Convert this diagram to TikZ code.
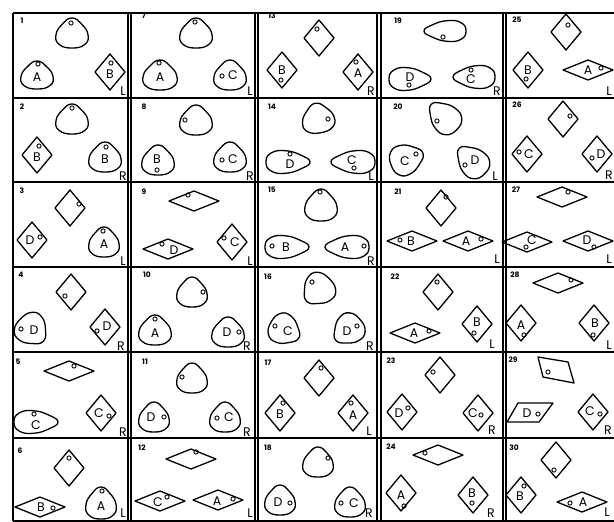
\documentclass[tikz,border=0pt]{standalone}
\usepackage{fontspec}
\setsansfont{Poppins}
\newcommand\Blob[5]{\begin{scope}[shift={(#1,#2)},rotate=#3]
\draw[shp] plot[smooth cycle,tension=0.8] coordinates {(0,{-#5/2}) ({0.28*#4},{-0.3*#5}) ({0.47*#4},{0.05*#5}) ({0.38*#4},{0.38*#5}) (0,{#5/2}) ({-0.38*#4},{0.38*#5}) ({-0.47*#4},{0.05*#5}) ({-0.28*#4},{-0.3*#5})};
\end{scope}}
\newcommand\DmV[2]{\draw[shp] (#1,#2) ++(0,-18) -- ++(15,18) -- ++(-15,18) -- ++(-15,-18) -- cycle;}
\newcommand\DmH[2]{\draw[shp] (#1,#2) ++(0,-10) -- ++(25,10) -- ++(-25,10) -- ++(-25,-10) -- cycle;}
\newcommand\Rg[2]{\draw[line width=0.9pt] (#1,#2) circle[radius=2.1pt];}
\newcommand\Lt[3]{\node[lett] at (#1,#2) {#3};}
\newcommand\Nm[3]{\node[numb] at (#1,#2) {#3};}
\begin{document}
\begin{tikzpicture}[x=1pt,y=-1pt,
 shp/.style={line width=1.3pt, line join=round},
 grd/.style={line width=1.6pt},
 lett/.style={font=\sffamily\fontsize{12.5}{12.5}\selectfont, inner sep=0pt},
 numb/.style={font=\sffamily\bfseries\fontsize{7.5}{7.5}\selectfont, inner sep=0pt}]
\useasboundingbox (0,0) rectangle (614,522);
\clip (0,0) rectangle (614,522);
\fill[white] (0,0) rectangle (614,522);
% grid
\draw[grd] (13,13) -- (620,13);
\draw[grd] (13,13) -- (13,521);
\draw[grd] (13,521) -- (620,521);
\foreach \yy in {98,182,267,352,438} {\draw[grd] (13,\yy) -- (620,\yy);}
\foreach \xx in {128,131,255,258,377,381,503,506} {\draw[grd] (\xx,13) -- (\xx,521);}
% ---------- column 1
\Nm{22}{21}{1}
\Blob{72}{33}{0}{34}{30} \Rg{71}{23}
\Blob{37}{75}{0}{34}{28} \Rg{38}{64} \Lt{37}{77}{A}
\DmV{110}{72} \Rg{111}{63} \Lt{110}{74}{B}
\Lt{123}{91}{L}
\Nm{22}{107}{2}
\Blob{72}{119}{0}{34}{30} \Rg{72}{108}
\DmV{37}{155} \Rg{39}{146} \Lt{37}{157}{B}
\Blob{105}{157}{0}{34}{30} \Rg{106}{147} \Lt{105}{159}{B}
\Lt{123}{176}{R}
\Nm{22}{191}{3}
\DmV{70}{208} \Rg{79}{204}
\DmV{32}{240} \Lt{30}{240}{D} \Rg{40}{237}
\Blob{104}{242}{0}{32}{30} \Rg{103}{231} \Lt{104}{244}{A}
\Lt{123}{261}{L}
\Nm{21}{275}{4}
\DmV{71}{292} \Rg{65}{296}
\Blob{32}{330}{-135}{34}{32} \Rg{21}{329} \Lt{34}{330}{D}
\DmV{105}{327} \Rg{97}{331} \Lt{107}{326}{D}
\Lt{121}{346}{R}
\Nm{18}{362}{5}
\DmH{69}{371} \Rg{74}{366}
\Blob{36}{422}{-90}{24}{44} \Rg{34}{414} \Lt{36}{425}{C}
\DmV{101}{413} \Rg{109}{416} \Lt{99}{413}{C}
\Lt{123}{432}{R}
\Nm{20}{451}{6}
\DmV{69}{468} \Rg{69}{458}
\DmH{40}{507} \Rg{53}{508} \Lt{41}{507}{B}
\Blob{101}{503}{0}{32}{32} \Rg{102}{491} \Lt{101}{506}{A}
\Lt{123}{513}{L}
% ---------- column 2
\Nm{144}{16}{7}
\Blob{196}{33}{0}{34}{30} \Rg{195}{22}
\Blob{160}{75}{0}{36}{30} \Rg{159}{63} \Lt{160}{77}{A}
\Blob{230}{75}{0}{34}{30} \Rg{222}{76} \Lt{233}{75}{C}
\Lt{250}{91}{L}
\Nm{144}{107}{8}
\Blob{196}{120}{0}{34}{30} \Rg{185}{120}
\Blob{158}{160}{0}{34}{30} \Lt{157}{159}{B} \Rg{157}{170}
\Blob{230}{157}{0}{34}{30} \Rg{222}{160} \Lt{233}{159}{C}
\Lt{250}{176}{R}
\Nm{144}{192}{9}
\DmH{194}{201} \Rg{188}{195}
\DmH{168}{249} \Rg{162}{244} \Lt{174}{250}{D}
\DmV{232}{242} \Rg{224}{238} \Lt{235}{242}{C}
\Lt{250}{261}{L}
\Nm{147}{275}{10}
\Blob{192}{292}{0}{32}{30} \Rg{203}{292}
\Blob{155}{330}{0}{34}{30} \Rg{155}{319} \Lt{155}{333}{A}
\Blob{228}{332}{0}{34}{30} \Lt{227}{332}{D} \Rg{239}{332}
\Lt{247}{346}{R}
\Nm{145}{362}{11}
\Blob{192}{378}{0}{32}{30} \Rg{182}{377}
\Blob{154}{417}{0}{32}{30} \Lt{151}{417}{D} \Rg{164}{417}
\Blob{225}{417}{0}{32}{30} \Rg{217}{418} \Lt{229}{417}{C}
\Lt{247}{432}{R}
\Nm{142}{448}{12}
\DmH{191}{459} \Rg{196}{452}
\DmH{160}{501} \Lt{158}{502}{C} \Rg{167}{497}
\DmH{218}{500} \Lt{217}{501}{A} \Rg{233}{499}
\Lt{250}{513}{L}
% ---------- column 3
\Nm{272}{16}{13}
\DmV{319}{38} \Rg{317}{29}
\DmV{282}{70} \Lt{282}{70}{B} \Rg{281}{80}
\DmV{358}{72} \Rg{356}{62} \Lt{358}{73}{A}
\Lt{371}{91}{R}
\Nm{272}{107}{14}
\Blob{318}{118}{10}{34}{30} \Rg{328}{119}
\Blob{288}{162}{-90}{24}{44} \Rg{290}{154} \Lt{290}{164}{D}
\Blob{353}{162}{90}{24}{44} \Lt{352}{160}{C} \Rg{354}{168}
\Lt{371}{176}{L}
\Nm{272}{190}{15}
\Blob{321}{205}{0}{34}{32} \Rg{320}{192}
\Blob{287}{247}{-90}{24}{44} \Rg{272}{246} \Lt{286}{247}{B}
\Blob{347}{247}{90}{24}{44} \Lt{345}{247}{A} \Rg{364}{246}
\Lt{371}{261}{R}
\Nm{268}{277}{16}
\Blob{318}{290}{135}{34}{32} \Rg{312}{282}
\Blob{285}{330}{-120}{32}{32} \Rg{275}{326} \Lt{288}{331}{C}
\Blob{348}{330}{130}{32}{32} \Lt{347}{331}{D} \Rg{357}{326}
\Lt{370}{346}{R}
\Nm{268}{363}{17}
\DmV{319}{378} \Rg{321}{368}
\DmV{280}{413} \Rg{283}{403} \Lt{280}{414}{B}
\DmV{353}{413} \Rg{351}{403} \Lt{353}{415}{A}
\Lt{369}{431}{L}
\Nm{268}{448}{18}
\Blob{318}{462}{0}{32}{30} \Rg{328}{458}
\Blob{280}{500}{0}{32}{30} \Lt{278}{502}{D} \Rg{290}{503}
\Blob{350}{502}{0}{32}{30} \Rg{341}{503} \Lt{354}{503}{C}
\Lt{369}{513}{R}
% ---------- column 4
\Nm{398}{21}{19}
\Blob{445}{31}{90}{22}{42} \Rg{443}{37}
\Blob{410}{79}{-90}{24}{42} \Lt{410}{77}{D} \Rg{409}{85}
\Blob{474}{77}{90}{24}{42} \Lt{471}{79}{C} \Rg{471}{70}
\Lt{497}{91}{R}
\Nm{398}{107}{20}
\Blob{444}{117}{45}{30}{36} \Rg{437}{121}
\Blob{407}{159}{-70}{32}{34} \Lt{405}{161}{C} \Rg{416}{154}
\Blob{472}{161}{45}{30}{36} \Lt{475}{160}{D} \Rg{465}{165}
\Lt{495}{176}{L}
\Nm{398}{192}{21}
\DmV{441}{208} \Rg{446}{197}
\DmH{412}{241} \Rg{400}{240} \Lt{411}{241}{B}
\DmH{468}{241} \Lt{466}{241}{A} \Rg{481}{239}
\Lt{497}{259}{L}
\Nm{395}{277}{22}
\DmV{438}{292} \Rg{437}{282}
\DmH{415}{333} \Lt{414}{333}{A} \Rg{429}{331}
\DmV{477}{324} \Lt{477}{322}{B} \Rg{474}{333}
\Lt{492}{344}{L}
\Nm{391}{361}{23}
\DmV{440}{375} \Rg{433}{372}
\DmV{402}{412} \Lt{399}{413}{D} \Rg{408}{408}
\DmV{478}{413} \Lt{473}{413}{C} \Rg{481}{415}
\Lt{492}{430}{R}
\Nm{391}{447}{24}
\DmH{438}{455} \Rg{425}{453}
\DmV{401}{493} \Lt{401}{495}{A} \Rg{404}{506}
\DmV{473}{495} \Lt{472}{493}{B} \Rg{472}{503}
\Lt{491}{513}{R}
% ---------- column 5
\Nm{517}{20}{25}
\DmV{566}{32} \Rg{568}{25}
\DmV{528}{70} \Lt{528}{70}{B} \Rg{526}{79}
\DmH{588}{70} \Lt{588}{70}{A} \Rg{601}{68}
\Lt{609}{91}{L}
\Nm{517}{105}{26}
\DmV{563}{119} \Rg{570}{116}
\DmV{527}{154} \Lt{529}{154}{C} \Rg{519}{152}
\DmV{597}{154} \Lt{601}{154}{D} \Rg{592}{158}
\Lt{609}{175}{R}
\Nm{516}{190}{27}
\DmH{562}{197} \Rg{568}{192}
\DmH{527}{242} \Lt{532}{240}{C} \Rg{526}{247}
\DmH{588}{241} \Lt{587}{240}{D} \Rg{594}{247}
\Lt{609}{259}{L}
\Nm{515}{275}{28}
\DmH{558}{283} \Rg{571}{280}
\DmV{521}{323} \Lt{521}{325}{A} \Rg{524}{335}
\DmV{594}{323} \Lt{595}{323}{B} \Rg{593}{335}
\Lt{609}{345}{L}
\Nm{513}{360}{29}
\draw[shp] (538,357) -- (568,362) -- (574,383) -- (543,377) -- cycle; \Rg{548}{372}
\draw[shp] (507,422) -- (518,403) -- (553,403) -- (539,422) -- cycle; \Lt{527}{413}{D} \Rg{538}{414}
\DmV{593}{412} \Lt{590}{411}{C} \Rg{600}{414}
\Lt{608}{430}{R}
\Nm{514}{448}{30}
\DmV{556}{460} \Rg{554}{470}
\DmV{521}{495} \Lt{520}{496}{B} \Rg{524}{486}
\DmH{582}{502} \Lt{583}{502}{A} \Rg{570}{503}
\Lt{607}{512}{L}
\end{tikzpicture}
\end{document}
